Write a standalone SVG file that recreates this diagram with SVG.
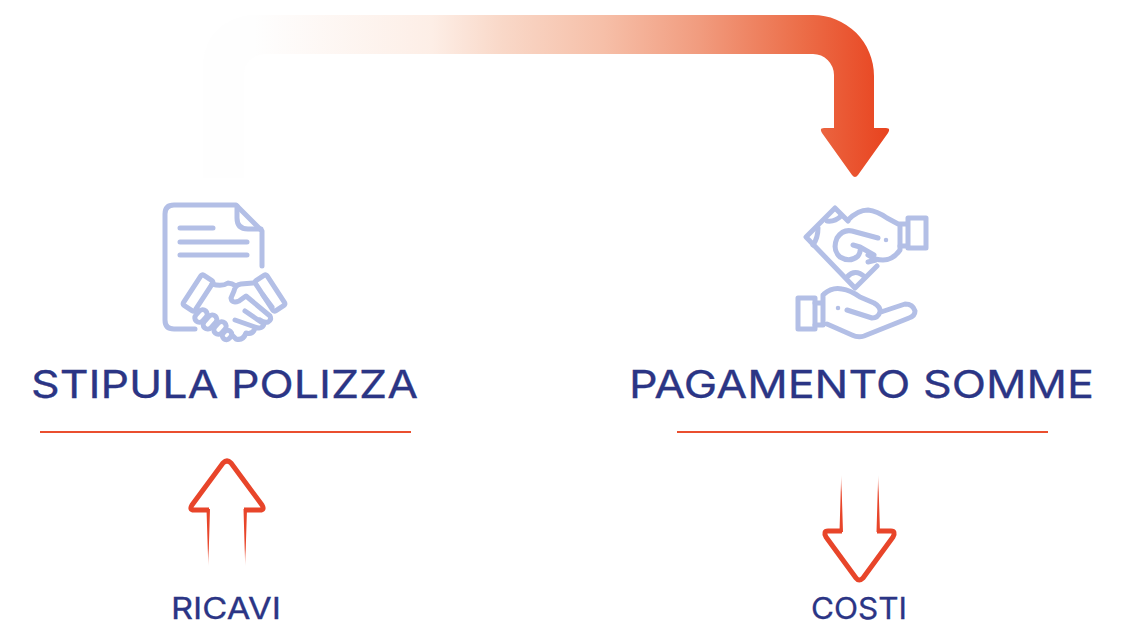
<svg xmlns="http://www.w3.org/2000/svg" width="1126" height="623" viewBox="0 0 1126 623">
<style>
.ic{fill:none;stroke:#b3bfe6;stroke-width:5;stroke-linecap:round;stroke-linejoin:round}
.t{font-family:"Inter","Liberation Sans",sans-serif;fill:#2b3585;stroke:#2b3585;stroke-width:0.300;font-weight:400}
.big{font-size:38.500px}
.sm{font-size:30px}
.rule{stroke:#ea4f2f;stroke-width:2;fill:none}
.out{fill:none;stroke:#e8452a;stroke-width:5;stroke-linejoin:round;stroke-linecap:butt}
</style>
<defs>
<linearGradient id="flow" gradientUnits="userSpaceOnUse" x1="254" y1="0" x2="889" y2="0">
<stop offset="0" stop-color="#fefefe"/>
<stop offset="0.28" stop-color="#fdeee6"/>
<stop offset="0.39" stop-color="#f9d8c8"/>
<stop offset="0.55" stop-color="#f6bfa8"/>
<stop offset="0.70" stop-color="#f19c7f"/>
<stop offset="0.86" stop-color="#ec6e49"/>
<stop offset="1" stop-color="#e8431f"/>
</linearGradient>
<linearGradient id="fadeUp" x1="0" y1="0" x2="0" y2="1">
<stop offset="0" stop-color="#e8452a"/><stop offset="0.7" stop-color="#e8452a"/><stop offset="1" stop-color="#e8452a" stop-opacity="0.25"/>
</linearGradient>
<linearGradient id="fadeDown" x1="0" y1="1" x2="0" y2="0">
<stop offset="0" stop-color="#e8452a"/><stop offset="0.7" stop-color="#e8452a"/><stop offset="1" stop-color="#e8452a" stop-opacity="0.25"/>
</linearGradient>
</defs>
<g id="connectors">
<path d="M203 178V66A51 51 0 0 1 254 15H813A61 61 0 0 1 874 76V128H886Q891 128 888 133L858 175Q855 179 852 175L822 133Q819 128 824 128H834V75A21 21 0 0 0 813 54H265A21 21 0 0 0 244 72V178Z" fill="url(#flow)"/>
<path d="M203 178V66A51 51 0 0 1 254 15V54Q244 56 244 72V178Z" fill="#fefefe"/>
</g>
<g id="node-stipula">
<path class="ic" d="M195 329H174Q165 329 165 320V214Q165 205 174 205H236L262 231V266"/>
<path class="ic" d="M237 206V218Q237 229 248 229H261"/>
<path class="ic" d="M180 228H213M180 242H247M180 255H247"/>
<rect class="ic" x="-7" y="-18" width="14" height="36" rx="2" transform="translate(198 293) rotate(33)"/>
<rect class="ic" x="-7" y="-18" width="14" height="36" rx="2" transform="translate(270 293) rotate(-33)"/>
<path class="ic" d="M212 284Q222 287 228 283Q232 283 236 286M253 283 241 284Q235 285 234 291L231 298Q232 304 239 301L246 296 270 316Q272 320 268 322Q264 323 260 320M263 295 272 307M245 311 264 324Q262 330 255 327L235 320M255 328Q253 335 246 333M246 333Q243 341 236 339L232 335"/>
<rect class="ic" x="-7" y="-4.500" width="14" height="9" rx="4.500" transform="translate(201 316) rotate(-48)"/>
<rect class="ic" x="-8" y="-4.500" width="16" height="9" rx="4.500" transform="translate(210 322) rotate(-48)"/>
<rect class="ic" x="-7" y="-4.500" width="14" height="9" rx="4.500" transform="translate(220 328) rotate(-48)"/>
<rect class="ic" x="-5" y="-4" width="10" height="8" rx="4" transform="translate(227 335) rotate(-48)"/>
</g>
<g id="node-pagamento">
<path class="ic" d="M848 221 835 208 806 237 855 288 877 266"/>
<path class="ic" d="M848 220Q858 210 868 210Q877 211 887 218L900 225V250Q893 260 883 260Q875 260 868 255"/>
<path class="ic" d="M900 224H908V218H926V248H908V242M908 218V248M900 246H908"/>
<path class="ic" d="M878 238 852 231Q843 229 837 238Q832 250 840 257Q850 263 858 256Q861 252 860 247L853 245M860 247 874 255"/>
<path class="ic" d="M827 221Q835 222 841 216M818 228Q818 238 813 245M847 277Q855 268 865 277M868 262 876 260"/>
<circle cx="886" cy="240" r="1.500" fill="#b3bfe6" stroke="#b3bfe6" stroke-width="1.500"/>
<path class="ic" d="M815 298H798V329H815Z"/>
<path class="ic" d="M815 303H823V325H815M823 295V325M824 294Q832 287 842 289Q850 290 860 297L874 303Q881 307 880 312Q878 318 872 318L847 310M881 312 905 304Q913 304 915 311Q915 316 909 318L864 336Q858 338 852 335L827 324"/>
<circle cx="838" cy="308" r="1.500" fill="#b3bfe6" stroke="#b3bfe6" stroke-width="1.500"/>
</g>
<text class="t big" x="31" y="398" textLength="387" lengthAdjust="spacingAndGlyphs">STIPULA POLIZZA</text>
<text class="t big" x="629" y="398" textLength="465" lengthAdjust="spacingAndGlyphs">PAGAMENTO SOMME</text>
<path class="rule" d="M40 432H411M677 432H1048"/>
<g id="node-ricavi">
<path class="out" d="M209 510H194Q189 510 192 505L223 463Q227 459 231 463L262 505Q265 510 260 510H244"/>
<path d="M206.500 509H210L208.300 566ZM243.500 509H247L245.200 566Z" fill="url(#fadeUp)"/>
<text class="t sm" x="171" y="619" textLength="110" lengthAdjust="spacingAndGlyphs">RICAVI</text>
</g>
<g id="node-costi">
<path class="out" d="M842 531H828Q823 531 826 537L856 578Q859 582 863 578L893 537Q896 531 891 531H877"/>
<path d="M839.500 532H843L841.200 475ZM876.500 532H880L878.200 475Z" fill="url(#fadeDown)"/>
<text class="t sm" x="811" y="619" textLength="96" lengthAdjust="spacingAndGlyphs">COSTI</text>
</g>
</svg>
